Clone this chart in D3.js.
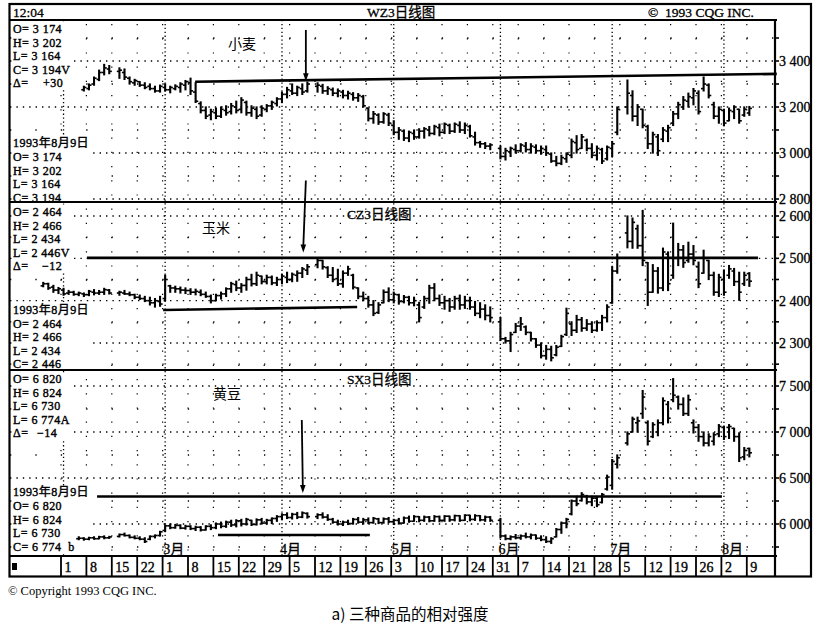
<!DOCTYPE html>
<html><head><meta charset="utf-8">
<script src="https://cdn.jsdelivr.net/npm/d3@7/dist/d3.min.js"></script>
<style>body{margin:0;background:#fff}svg{display:block}</style>
</head><body>
<svg id="chart" width="817" height="628"></svg>
<script>
// ---------------- DATA ----------------
// day index 0 = Mon 1 Feb 1993, one slot per weekday; null = holiday
const wheatStart = 4;
const wheatBars = [
[3275,3290,3270,3285],[3280,3300,3275,3295],[3300,3330,3295,3325],[3320,3360,3315,3350],[3350,3385,3340,3370],
[3365,3380,3345,3355],null,[3355,3370,3325,3360],[3350,3365,3320,3330],[3325,3330,3300,3310],
[3305,3320,3295,3315],[3310,3310,3290,3295],[3295,3305,3280,3285],[3290,3300,3275,3280],[3280,3290,3265,3270],
[3270,3295,3265,3290],[3285,3300,3270,3275],[3275,3290,3262,3285],[3280,3296,3275,3290],[3285,3305,3265,3300],
[3295,3315,3275,3310],[3305,3325,3255,3270],[3265,3305,3220,3225],[3215,3222,3175,3185],[3185,3200,3150,3160],
[3165,3190,3145,3180],[3175,3195,3150,3160],[3160,3200,3155,3190],[3185,3205,3165,3175],[3180,3215,3170,3205],
[3200,3225,3175,3185],[3190,3240,3175,3230],[3220,3225,3165,3175],[3175,3205,3160,3195],[3190,3200,3150,3160],
[3165,3205,3160,3195],[3190,3210,3180,3205],[3205,3225,3190,3220],[3215,3240,3205,3235],[3235,3265,3220,3255],
[3255,3285,3240,3275],[3270,3300,3255,3260],[3260,3290,3250,3285],[3280,3300,3255,3265],[3270,3308,3265,3300],
null,[3290,3305,3265,3295],[3290,3298,3260,3270],[3270,3288,3255,3280],[3275,3282,3250,3260],
[3260,3278,3245,3270],[3265,3272,3240,3250],[3250,3268,3235,3260],[3255,3262,3230,3240],[3240,3258,3225,3250],
[3245,3250,3200,3205],[3195,3195,3140,3150],[3150,3180,3130,3170],[3165,3170,3125,3135],[3135,3175,3130,3170],
[3165,3172,3120,3130],[3120,3140,3080,3090],[3090,3110,3060,3100],[3095,3100,3055,3065],[3065,3095,3050,3090],
[3085,3100,3060,3070],[3070,3105,3065,3095],[3095,3110,3065,3105],[3100,3115,3075,3085],[3085,3120,3080,3115],
[3110,3125,3075,3090],[3090,3130,3085,3125],[3120,3125,3085,3095],[3095,3130,3090,3125],[3120,3135,3090,3100],
[3100,3130,3085,3120],[3115,3120,3070,3075],[3070,3090,3035,3045],[3045,3050,3025,3040],[3040,3045,3020,3030],
[3030,3040,3015,3035],null,[3020,3030,2975,2985],[2985,3020,2970,3010],[3005,3025,2985,3020],
[3015,3035,3000,3010],[3010,3040,3005,3035],[3030,3045,3005,3015],[3015,3040,3000,3030],[3025,3035,3000,3010],
[3010,3030,2995,3020],[3015,3030,2990,3000],[2995,3000,2960,2965],[2965,2985,2945,2955],[2955,2990,2950,2980],
[2975,3000,2960,2995],[2990,3060,2980,3050],[3045,3075,3000,3015],[3020,3080,3020,3070],[3055,3060,3010,3020],
[3020,3040,2980,2990],[2990,3030,2970,3020],[3015,3020,2955,2965],[2975,3030,2970,3025],[3020,3050,2985,3040],
[3090,3200,3080,3190],null,[3200,3317,3170,3260],[3250,3270,3140,3160],[3160,3210,3120,3200],
[3190,3190,3110,3120],[3115,3120,3020,3040],[3040,3090,3000,3080],[3070,3080,2990,3010],[3060,3110,3050,3100],
[3095,3120,3050,3110],[3130,3180,3120,3170],[3170,3220,3150,3210],[3200,3245,3190,3230],[3225,3260,3200,3245],
[3240,3280,3210,3270],[3260,3270,3170,3180],[3280,3330,3270,3300],[3295,3300,3240,3250],[3210,3220,3150,3160],
[3160,3200,3130,3190],[3185,3190,3120,3130],[3140,3195,3140,3185],[3180,3205,3150,3200],[3190,3190,3130,3140],
[3165,3200,3160,3190],[3174,3202,3164,3194]
];
const cornStart = -4;
const cornBars = [
[2435,2443,2433,2440],[2440,2441,2427,2430],[2432,2436,2420,2425],[2425,2431,2417,2428],
[2425,2429,2413,2416],[2418,2424,2415,2420],[2420,2422,2413,2415],[2415,2420,2412,2418],[2416,2418,2410,2414],
[2414,2424,2412,2422],[2420,2426,2414,2418],[2418,2424,2415,2420],[2420,2429,2415,2426],[2425,2426,2416,2418],
null,[2418,2422,2413,2420],[2418,2424,2415,2416],[2416,2420,2412,2414],[2414,2415,2405,2408],
[2408,2413,2403,2405],[2405,2410,2398,2400],[2400,2408,2390,2395],[2395,2405,2385,2400],[2398,2410,2387,2392],
[2405,2460,2400,2450],[2435,2436,2420,2430],[2430,2434,2420,2428],[2428,2432,2418,2425],[2425,2430,2417,2424],
[2424,2428,2415,2420],[2420,2427,2414,2422],[2420,2425,2412,2415],[2415,2420,2408,2410],[2410,2413,2395,2400],
[2400,2415,2400,2412],[2412,2420,2404,2416],[2416,2430,2410,2428],[2428,2443,2420,2440],[2438,2446,2424,2430],
[2430,2440,2420,2436],[2436,2455,2425,2450],[2450,2462,2435,2440],[2440,2467,2436,2460],[2458,2458,2440,2445],
[2445,2460,2440,2455],[2455,2458,2438,2442],[2442,2455,2436,2450],[2450,2462,2440,2458],[2455,2467,2443,2450],
[2450,2465,2445,2462],[2460,2470,2446,2465],[2465,2478,2455,2475],[2472,2485,2462,2480],null,
[2485,2500,2478,2495],[2495,2495,2475,2480],[2478,2480,2455,2460],[2460,2478,2445,2450],[2452,2474,2436,2440],
[2440,2470,2432,2465],[2465,2481,2460,2475],[2460,2462,2428,2432],[2430,2430,2405,2410],[2410,2420,2400,2405],
[2405,2410,2385,2390],[2390,2400,2365,2370],[2372,2395,2370,2390],[2395,2425,2395,2420],[2420,2430,2398,2402],
[2402,2420,2395,2415],[2414,2415,2392,2398],[2398,2412,2395,2408],[2408,2410,2390,2395],[2395,2408,2388,2400],
[2390,2396,2350,2360],[2385,2410,2382,2405],[2405,2436,2394,2430],[2430,2440,2400,2405],[2405,2413,2389,2395],
[2395,2410,2380,2400],[2400,2405,2375,2385],[2385,2410,2380,2405],[2405,2413,2380,2390],[2390,2410,2382,2400],
[2400,2408,2380,2385],[2385,2398,2365,2370],[2370,2395,2360,2380],[2380,2390,2355,2365],[2365,2385,2350,2360],
null,[2350,2360,2306,2310],[2310,2313,2300,2305],[2305,2325,2280,2320],[2325,2346,2325,2340],
[2340,2360,2330,2345],[2338,2340,2320,2325],[2325,2325,2305,2310],[2310,2310,2290,2295],[2295,2300,2265,2270],
[2270,2294,2262,2285],[2285,2292,2258,2265],[2272,2294,2270,2290],[2292,2318,2292,2315],[2320,2382,2318,2370],
[2345,2350,2318,2330],[2330,2365,2325,2355],[2355,2360,2328,2335],[2335,2355,2330,2345],[2345,2350,2325,2330],
[2330,2352,2328,2348],[2348,2365,2330,2360],[2360,2390,2350,2385],[2395,2480,2394,2470],[2470,2510,2465,2500],
null,[2560,2600,2525,2540],[2540,2595,2524,2585],[2570,2578,2524,2530],[2530,2613,2483,2495],
[2490,2490,2389,2420],[2420,2485,2420,2470],[2470,2478,2418,2430],[2430,2524,2424,2515],[2510,2515,2424,2440],
[2460,2583,2453,2500],[2500,2535,2483,2520],[2520,2530,2479,2490],[2495,2538,2491,2510],[2510,2530,2485,2495],
[2480,2491,2431,2440],[2465,2519,2465,2500],[2495,2495,2450,2460],[2460,2467,2413,2420],[2420,2462,2410,2455],
[2450,2472,2413,2420],[2460,2483,2453,2475],[2470,2476,2436,2445],[2445,2467,2401,2420],[2440,2467,2436,2460],
[2464,2466,2434,2446]
];
const soyStart = 3;
const soyBars = [
[5840,5860,5830,5845],[5845,5850,5825,5835],[5835,5855,5830,5850],[5850,5860,5835,5840],[5840,5865,5840,5860],
[5860,5870,5840,5850],[5850,5865,5845,5860],null,[5865,5890,5860,5885],[5885,5900,5870,5875],
[5875,5880,5850,5855],[5855,5870,5840,5845],[5845,5860,5830,5835],[5835,5850,5800,5810],[5835,5870,5830,5865],
[5865,5880,5850,5875],[5875,5920,5870,5915],[5930,5990,5920,5980],[5980,6000,5950,5960],[5960,5995,5955,5985],
[5985,5990,5950,5955],[5955,5985,5945,5975],[5975,5980,5940,5950],[5950,5975,5930,5965],[5965,5970,5925,5935],
[5935,5980,5935,5975],[5975,5990,5940,5960],[5960,6010,5950,6000],[6000,6020,5960,5975],[5975,6030,5965,6020],
[6020,6040,5975,5990],[5990,6045,5970,6035],[6035,6050,5980,6000],[6000,6060,5990,6050],[6040,6040,5985,5995],
[5995,6055,5990,6045],[6045,6060,6000,6010],[6010,6050,6000,6040],[6040,6065,6005,6060],[6060,6090,6030,6080],
[6080,6110,6050,6100],[6100,6120,6060,6070],[6070,6115,6055,6105],[6105,6125,6060,6075],[6075,6130,6070,6120],
[6115,6120,6065,6080],null,[6080,6110,6060,6100],[6100,6120,6065,6075],[6075,6100,6040,6050],
[6050,6060,6010,6020],[6020,6040,5990,6000],[6000,6030,5985,6020],[6020,6040,5995,6005],[6005,6060,6000,6050],
[6050,6070,6010,6020],[6020,6060,6000,6045],[6045,6065,6005,6015],[6015,6070,6010,6060],[6055,6060,6005,6015],
[6015,6065,6010,6055],[6055,6070,6015,6025],[6025,6050,5995,6040],[6040,6060,6000,6010],[6010,6075,6010,6065],
[6065,6085,6020,6030],[6030,6090,6030,6080],[6080,6080,6025,6040],[6040,6085,6030,6075],[6075,6080,6025,6035],
[6035,6090,6030,6080],[6080,6085,6025,6040],[6040,6090,6030,6085],[6085,6085,6030,6045],[6045,6095,6035,6090],
[6090,6090,6030,6040],[6040,6100,6040,6095],[6095,6095,6035,6050],[6050,6100,6040,6090],[6090,6090,6035,6045],
[6045,6085,6030,6075],[6075,6080,6030,6040],null,[6040,6060,5850,5870],[5870,5880,5830,5840],
[5840,5870,5830,5860],[5860,5885,5840,5850],[5850,5880,5835,5870],[5870,5900,5850,5860],[5860,5890,5840,5880],
[5880,5880,5835,5845],[5845,5870,5820,5830],[5830,5860,5800,5810],[5810,5850,5790,5840],[5860,5950,5860,5940],
[5940,6020,5900,6010],[6010,6060,5960,6050],[6110,6260,6100,6250],[6250,6300,6200,6220],[6255,6340,6250,6320],
[6300,6310,6220,6240],[6240,6300,6200,6280],[6280,6290,6190,6210],[6235,6330,6230,6320],[6380,6530,6370,6510],
[6420,6700,6380,6680],[6650,6750,6610,6720],null,[6880,7000,6860,6980],[7000,7160,7000,7140],
[7100,7160,7000,7120],[7200,7450,7150,7380],[7100,7120,6860,6900],[6950,7100,6940,7080],[7000,7130,6960,7100],
[7100,7370,7080,7340],[7300,7330,7100,7150],[7350,7580,7330,7400],[7380,7390,7250,7300],[7300,7370,7180,7200],
[7200,7400,7180,7350],[7100,7130,6990,7050],[7050,7080,6900,6950],[6950,7000,6850,6880],[6880,6980,6850,6950],
[6900,6990,6860,6970],[6980,7080,6950,7060],[7050,7060,6920,6950],[7050,7080,6930,7060],[7040,7040,6900,6950],
[6950,6990,6680,6720],[6730,6830,6700,6800],[6820,6824,6730,6774]
];

const wheatTicks = [2800, 3000, 3200, 3400];
const wheatMinor = [2900, 3100, 3300, 3500];
const cornTicks = [2300, 2400, 2500, 2600];
const cornMinor = [2250, 2350, 2450, 2550];
const soyTicks = [6000, 6500, 7000, 7500];
const soyMinor = [5750, 6250, 6750, 7250];

const weekLabels = ["1","8","15","22","1","8","15","22","29","5","12","19","26","3","10","17","24","31","7","14","21","28","5","12","19","26","2","9"];
const monthStarts = [0, 20, 43, 65, 86, 108, 130];
const monthLabels = ["", "3月", "4月", "5月", "6月", "7月", "8月"];

// annotations: [dayIndex, price]
const wheatLine = [[25.9, 3310], [140.4, 3344]];
const wheatArrow = [[47.7, 3535], [47.7, 3312]];
const cornLineTop = [[4.6, 2501], [136.7, 2501]];
const cornLineLow = [[19.6, 2378], [57.8, 2385]];
const cornArrow = [[47.7, 2684], [47.2, 2514]];
const soyLineTop = [[6.6, 6299], [129.6, 6299]];
const soyLineLow = [[30.4, 5880], [60.3, 5880]];
const soyArrow = [[46.9, 7130], [47.1, 6337]];

const wheatInfo = ["O= 3 174", "H= 3 202", "L= 3 164", "C= 3 194V"];
const wheatDelta = "+30";
const wheatDate = ["1993年8月9日", "O= 3 174", "H= 3 202", "L= 3 164", "C= 3 194"];
const cornInfo = ["O= 2 464", "H= 2 466", "L= 2 434", "L= 2 446V"];
const cornDelta = "−12";
const cornDate = ["1993年8月9日", "O= 2 464", "H= 2 466", "L= 2 434", "C= 2 446"];
const soyInfo = ["O= 6 820", "H= 6 824", "L= 6 730", "L= 6 774A"];
const soyDelta = "−14";
const soyDate = ["1993年8月9日", "O= 6 820", "H= 6 824", "L= 6 730", "C= 6 774  b"];

// ---------------- DRAW ----------------
const svg = d3.select("#chart");
const SERIF = "'Liberation Serif','Times New Roman','Noto Sans CJK SC',serif";
const CJK = "'Noto Sans CJK SC','Liberation Serif',sans-serif";
const L = 10, R = 775, TOP = 20, AXT = 556, BOT = 576;

svg.append("rect").attr("width", 817).attr("height", 628).attr("fill", "#fff");

const x = d3.scaleLinear().domain([0, 135]).range([63.54, 749.34]);

const panels = [
  {bars: wheatBars, start: wheatStart, dom: [2800, 3400], rng: [199, 61], ticks: wheatTicks, minor: wheatMinor, top: TOP, bot: 202,
   lines: [wheatLine], arrow: wheatArrow, info: wheatInfo, delta: wheatDelta, date: wheatDate,
   infoY: [33, 46.5, 60, 73.5, 87], dateY: [147, 161, 174.5, 188, 201.5], deltaX: 43,
   name: "小麦", nameX: 228, nameY: 49, title: "WZ3日线图", titleX: 367, titleY: 17},
  {bars: cornBars, start: cornStart, dom: [2300, 2600], rng: [343, 216], ticks: cornTicks, minor: cornMinor, top: 202, bot: 370,
   lines: [cornLineTop, cornLineLow], arrow: cornArrow, info: cornInfo, delta: cornDelta, date: cornDate,
   infoY: [216, 229.5, 243, 256.5, 270], dateY: [313.5, 327.5, 341, 354.5, 368], deltaX: 42,
   name: "玉米", nameX: 202, nameY: 233, title: "CZ3日线图", titleX: 347, titleY: 219},
  {bars: soyBars, start: soyStart, dom: [6000, 7500], rng: [524, 386], ticks: soyTicks, minor: soyMinor, top: 370, bot: AXT,
   lines: [soyLineTop, soyLineLow], arrow: soyArrow, info: soyInfo, delta: soyDelta, date: soyDate,
   infoY: [383, 396.5, 410, 423.5, 437], dateY: [496, 510, 523.5, 537, 550.5], deltaX: 37,
   name: "黄豆", nameX: 213, nameY: 399, title: "SX3日线图", titleX: 347, titleY: 384}
];

// month (dense) and week (sparse) vertical grid
const grid = svg.append("g");
d3.range(0, 28).forEach(w => {
  const xx = x(w * 5) - 2.54;
  grid.append("line").attr("x1", xx).attr("x2", xx).attr("y1", TOP + 4).attr("y2", AXT)
    .attr("stroke", "#000").attr("stroke-width", 1.2).attr("stroke-dasharray", "1.2,13");
});
monthStarts.forEach(i => {
  grid.append("line").attr("x1", x(i)).attr("x2", x(i)).attr("y1", TOP).attr("y2", AXT)
    .attr("stroke", "#000").attr("stroke-width", 1.3).attr("stroke-dasharray", "1.3,2.6");
});

const fmt = v => d3.format(",")(v).replace(/,/g, " ");

panels.forEach(p => {
  const y = d3.scaleLinear().domain(p.dom).range(p.rng);
  const g = svg.append("g");
  // horizontal gridlines
  p.ticks.forEach(v => {
    const yy = y(v); if (yy < p.top + 1 || yy > p.bot - 1) return;
    g.append("line").attr("x1", L).attr("x2", R).attr("y1", yy).attr("y2", yy)
      .attr("stroke", "#000").attr("stroke-width", 1.4).attr("stroke-dasharray", "1.4,5");
  });
  p.minor.forEach(v => {
    const yy = y(v); if (yy < p.top + 1 || yy > p.bot - 1) return;
    g.append("line").attr("x1", L).attr("x2", R).attr("y1", yy).attr("y2", yy)
      .attr("stroke", "#000").attr("stroke-width", 1.3).attr("stroke-dasharray", "1.3,24.1");
  });
  // right axis ticks and labels
  p.minor.concat(p.ticks).forEach(v => {
    const yy = y(v); if (yy < p.top || yy > p.bot) return;
    g.append("line").attr("x1", R).attr("x2", R + 4).attr("y1", yy).attr("y2", yy)
      .attr("stroke", "#000").attr("stroke-width", 1.6);
  });
  p.ticks.forEach(v => {
    g.append("text").attr("x", 779).attr("y", y(v) + 5).text(fmt(v))
      .attr("font-family", SERIF).attr("font-size", 14).attr("fill", "#000")
      .attr("stroke", "#000").attr("stroke-width", 0.3);
  });

  // text blocks (one text element per block, one tspan per line) with white backing
  const mk = () => svg.append("text").attr("font-family", SERIF).attr("font-size", 12).attr("fill", "#000")
    .attr("letter-spacing", 0.45).attr("stroke", "#000").attr("stroke-width", 0.4).attr("xml:space", "preserve");
  const t1 = mk();
  p.info.forEach((t, k) => t1.append("tspan").attr("x", 13).attr("y", p.infoY[k]).text(t));
  t1.append("tspan").attr("x", 13).attr("y", p.infoY[4]).text("Δ=");
  t1.append("tspan").attr("x", p.deltaX).attr("y", p.infoY[4]).text(p.delta);
  const t2 = mk();
  p.date.forEach((t, k) => t2.append("tspan").attr("x", 13).attr("y", p.dateY[k]).text(t));
  [t1, t2].forEach(t => {
    const b = t.node().getBBox();
    svg.insert("rect", () => t.node()).attr("x", b.x - 1).attr("y", b.y + 2).attr("width", b.width + 3)
      .attr("height", b.height - 3).attr("fill", "#fff");
  });
  svg.append("text").attr("x", p.nameX).attr("y", p.nameY).text(p.name)
    .attr("font-family", CJK).attr("font-size", 14).attr("fill", "#000");
  svg.append("text").attr("x", p.titleX).attr("y", p.titleY).text(p.title)
    .attr("font-family", SERIF).attr("font-size", 13.5).attr("fill", "#000")
    .attr("stroke", "#000").attr("stroke-width", 0.3);

  // OHLC bars
  const data = p.bars.map((b, k) => b && {i: p.start + k, o: b[0], h: b[1], l: b[2], c: b[3]}).filter(Boolean);
  const bg = svg.append("g").attr("stroke", "#000");
  bg.selectAll(".hl").data(data).join("line")
    .attr("x1", d => x(d.i)).attr("x2", d => x(d.i))
    .attr("y1", d => y(d.h) - 0.6).attr("y2", d => y(d.l) + 0.6).attr("stroke-width", 2.1);
  bg.selectAll(".op").data(data).join("line")
    .attr("x1", d => x(d.i) - 2.6).attr("x2", d => x(d.i))
    .attr("y1", d => y(d.o)).attr("y2", d => y(d.o)).attr("stroke-width", 1.6);
  bg.selectAll(".cl").data(data).join("line")
    .attr("x1", d => x(d.i)).attr("x2", d => x(d.i) + 2.6)
    .attr("y1", d => y(d.c)).attr("y2", d => y(d.c)).attr("stroke-width", 1.6);

  // trend lines
  p.lines.forEach(ln => {
    svg.append("line").attr("x1", x(ln[0][0])).attr("y1", y(ln[0][1]))
      .attr("x2", x(ln[1][0])).attr("y2", y(ln[1][1]))
      .attr("stroke", "#000").attr("stroke-width", 2.6);
  });
  // arrow
  const a0 = [x(p.arrow[0][0]), y(p.arrow[0][1])], a1 = [x(p.arrow[1][0]), y(p.arrow[1][1])];
  svg.append("line").attr("x1", a0[0]).attr("y1", a0[1]).attr("x2", a1[0]).attr("y2", a1[1] - 6)
    .attr("stroke", "#000").attr("stroke-width", 1.8);
  svg.append("path").attr("d", `M${a1[0]},${a1[1]} L${a1[0] - 2.8},${a1[1] - 8} L${a1[0] + 2.8},${a1[1] - 8} Z`)
    .attr("fill", "#000");
});

// frame & dividers
const fr = svg.append("g").attr("stroke", "#000").attr("fill", "none");
fr.append("rect").attr("x", 9.5).attr("y", 4).attr("width", 801.5).attr("height", 572.5).attr("stroke-width", 2.2);
[TOP, 202, 370, AXT].forEach(yy => fr.append("line").attr("x1", L).attr("x2", R + 2).attr("y1", yy).attr("y2", yy).attr("stroke-width", 2.2));
fr.append("line").attr("x1", R).attr("x2", R).attr("y1", TOP).attr("y2", BOT).attr("stroke-width", 2.2);

// header
const hg = svg.append("g").attr("font-family", SERIF).attr("font-size", 13.5).attr("fill", "#000")
  .attr("stroke", "#000").attr("stroke-width", 0.3);
hg.append("text").attr("x", 13).attr("y", 17).text("12:04");
hg.append("text").attr("x", 648).attr("y", 17).text("©  1993 CQG INC.").attr("xml:space", "preserve");

// week axis row
const ag = svg.append("g");
weekLabels.forEach((t, w) => {
  const xx = x(w * 5) - 2.54;
  ag.append("line").attr("x1", xx).attr("x2", xx).attr("y1", AXT).attr("y2", BOT)
    .attr("stroke", "#000").attr("stroke-width", 1.8);
  ag.append("text").attr("x", xx + 3.5).attr("y", 572).text(t)
    .attr("font-family", SERIF).attr("font-size", 14).attr("fill", "#000")
    .attr("stroke", "#000").attr("stroke-width", 0.35);
});
ag.append("rect").attr("x", 12).attr("y", 563).attr("width", 5).attr("height", 7).attr("fill", "#000");
monthLabels.forEach((t, k) => {
  if (!t) return;
  ag.append("text").attr("x", x(monthStarts[k]) - 2).attr("y", 554).text(t)
    .attr("font-family", SERIF).attr("font-size", 14).attr("fill", "#000")
    .attr("stroke", "#000").attr("stroke-width", 0.3);
});

// footer
svg.append("text").attr("x", 8).attr("y", 595).text("© Copyright 1993 CQG INC.")
  .attr("font-family", SERIF).attr("font-size", 12.5).attr("fill", "#000");
svg.append("text").attr("x", 410).attr("y", 620).attr("text-anchor", "middle").text("a) 三种商品的相对强度")
  .attr("font-family", CJK).attr("font-size", 15.5).attr("fill", "#000");
</script>
</body></html>
